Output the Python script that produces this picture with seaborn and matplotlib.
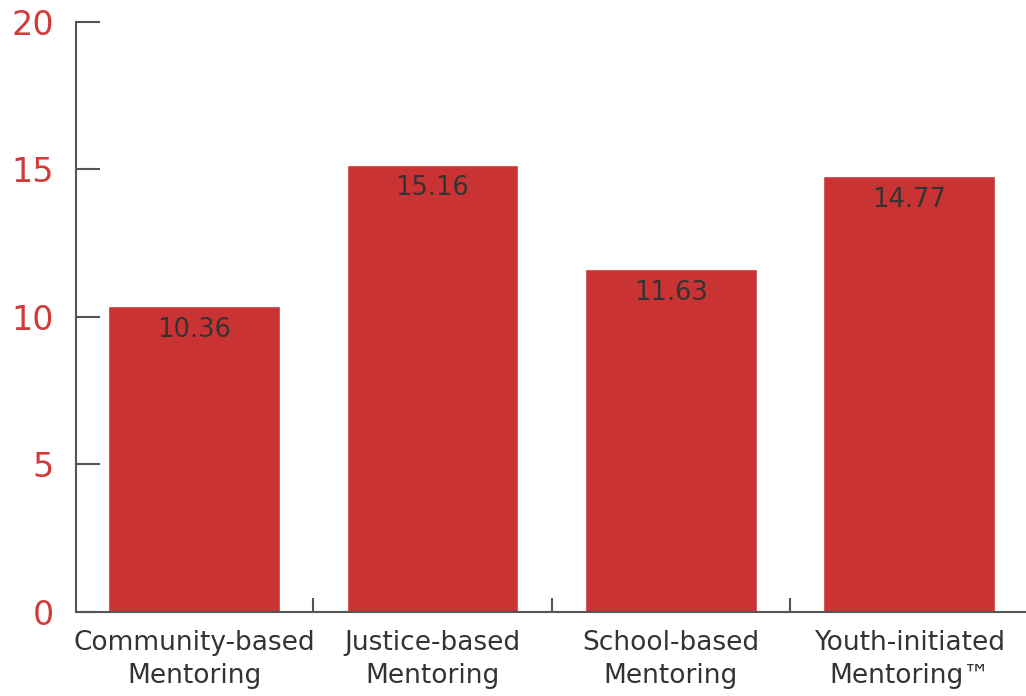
import matplotlib
matplotlib.use("Agg")
import matplotlib.pyplot as plt
import seaborn as sns
import pandas as pd

# data
programs = ["Community-based\nMentoring", "Justice-based\nMentoring",
            "School-based\nMentoring", "Youth-initiated\nMentoring\u2122"]
values = [10.36, 15.16, 11.63, 14.77]
yticks = [0, 5, 10, 15, 20]

bar_red = "#C93333"
tick_red = "#D23A3A"
axis_grey = "#555555"
text_dark = "#333333"

df = pd.DataFrame({"program": programs, "value": values})

sns.set_theme(style="white")
plt.rcParams["font.family"] = ["DejaVu Sans"]

fig = plt.figure(figsize=(10.26, 6.96), dpi=100)
ax = fig.add_axes([0.0741, 0.1207, 0.9259, 0.8477])

sns.barplot(data=df, x="program", y="value", color=bar_red, width=0.72,
            saturation=1, ax=ax)

# value labels inside the bars, near the top
for i, v in enumerate(values):
    ax.text(i, v - 0.8, f"{v:.2f}", ha="center", va="center",
            fontsize=18.5, color=text_dark)

ax.set_xlim(-0.495, 3.49)
ax.set_ylim(0, 20)
ax.set_yticks(yticks)
ax.set_yticklabels([str(t) for t in yticks], fontsize=24, color=tick_red)
ax.set_xticks(range(len(programs)))
ax.set_xticklabels(programs, fontsize=19, color=text_dark, linespacing=1.35)
ax.set_xlabel("")
ax.set_ylabel("")

# x labels under bars, tick marks between categories
ax.tick_params(axis="x", which="major", length=0, pad=13, bottom=False)
ax.set_xticks([0.5, 1.5, 2.5], minor=True)
ax.tick_params(axis="x", which="minor", direction="in", length=10,
               width=1.5, color=axis_grey, bottom=True)
ax.tick_params(axis="y", direction="in", length=17, width=1.5,
               color=axis_grey, pad=16, left=True)

for side in ["top", "right"]:
    ax.spines[side].set_visible(False)
for side in ["left", "bottom"]:
    ax.spines[side].set_color(axis_grey)
    ax.spines[side].set_linewidth(1.5)

fig.savefig("out.png", dpi=100)
